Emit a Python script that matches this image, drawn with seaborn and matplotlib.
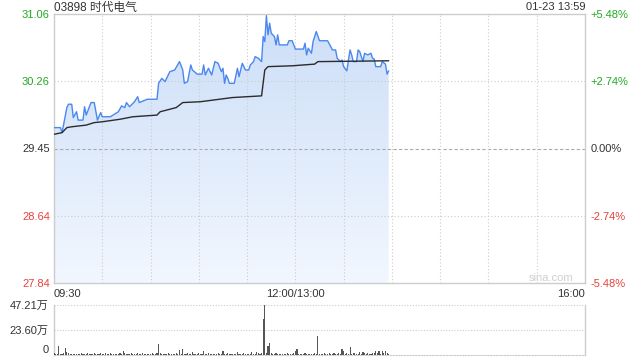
import numpy as np
import pandas as pd
import matplotlib
matplotlib.use("Agg")
import matplotlib.pyplot as plt
import seaborn as sns
from matplotlib.patches import Polygon

# ---------------- data ----------------
title = "03898 时代电气"
stamp = "01-23 13:59"
prev_close = 29.45
price_ticks = [27.84, 28.64, 29.45, 30.26, 31.06]
pct_labels = ["-5.48%", "-2.74%", "0.00%", "+2.74%", "+5.48%"]
time_ticks = [0, 150, 330]
time_labels = ["09:30", "12:00/13:00", "16:00"]

price_min = [0, 4, 5, 8, 9, 11, 12, 14, 15, 18, 19, 20, 23, 25, 27, 29, 30, 35, 40, 42,
             44, 45, 47, 50, 52, 53, 58, 64, 65, 67, 69, 72, 75, 78, 80, 81, 83, 85, 86, 89,
             92, 93, 94, 96, 98, 100, 102, 104, 105, 106, 107, 108, 109, 112, 114, 115, 117, 119, 121, 122,
             124, 125, 127, 129, 130, 131, 132, 133, 134, 135, 137, 138, 139, 140, 145, 146, 148, 150, 155, 156,
             157, 158, 160, 161, 163, 165, 170, 172, 173, 175, 176, 178, 179, 180, 182, 183, 184, 185, 186, 188,
             189, 190, 192, 193, 195, 197, 198, 199, 200, 203, 204, 206, 207, 208]
price_val = [29.70, 29.70, 29.64, 29.94, 29.98, 29.98, 29.82, 29.89, 29.79, 29.79, 29.95, 29.85, 30.00, 30.00, 29.79, 29.88, 29.83, 29.83, 29.89, 29.96,
             29.94, 30.00, 29.95, 30.01, 30.07, 30.00, 30.04, 30.04, 30.23, 30.29, 30.25, 30.37, 30.39, 30.49, 30.39, 30.23, 30.25, 30.45, 30.39, 30.34,
             30.34, 30.45, 30.33, 30.41, 30.33, 30.49, 30.47, 30.37, 30.41, 30.23, 30.33, 30.29, 30.23, 30.23, 30.41, 30.31, 30.47, 30.39, 30.39, 30.45,
             30.49, 30.55, 30.53, 30.49, 30.79, 30.73, 31.04, 30.81, 30.95, 30.83, 30.79, 30.69, 30.81, 30.69, 30.69, 30.74, 30.74, 30.64, 30.64, 30.71,
             30.57, 30.65, 30.59, 30.73, 30.85, 30.74, 30.74, 30.67, 30.63, 30.63, 30.53, 30.49, 30.51, 30.43, 30.38, 30.51, 30.63, 30.57, 30.49, 30.49,
             30.63, 30.61, 30.49, 30.59, 30.57, 30.59, 30.53, 30.52, 30.43, 30.43, 30.49, 30.46, 30.34, 30.38]

avg_min = [0, 5, 8, 11, 20, 25, 30, 41, 49, 64, 66, 76, 80, 91, 111, 129, 131, 133, 148, 162, 164, 208]
avg_val = [29.62, 29.64, 29.70, 29.71, 29.73, 29.76, 29.77, 29.80, 29.83, 29.85, 29.89, 29.94, 30.00, 30.01,
           30.06, 30.08, 30.39, 30.43, 30.44, 30.46, 30.49, 30.50]

vol_max = 47.21
vol_ticks = [0, 23.605, 47.21]
vol_labels = ["0", "23.60万", "47.21万"]
vol_val = [1.5, 1.2, 1.0, 8.5, 1.4, 1.2, 1.6, 6.9, 3.1, 1.8, 1.3, 1.1, 1.2, 1.0, 1.4, 1.1, 1.3, 1.5, 1.0, 1.2,
           1.1, 1.6, 1.3, 1.0, 1.2, 1.9, 1.1, 1.4, 1.0, 1.7, 1.2, 1.1, 1.5, 1.0, 1.3, 1.8, 1.2, 1.1, 1.4, 1.0,
           1.2, 1.5, 1.1, 3.8, 1.6, 1.2, 1.0, 1.4, 1.9, 1.1, 1.3, 1.0, 1.5, 1.2, 1.1, 1.7, 1.0, 1.3, 1.2, 1.4,
           1.1, 1.6, 1.0, 1.3, 1.8, 10.4, 1.5, 1.2, 1.4, 1.1, 1.0, 1.6, 1.3, 1.2, 1.0, 1.4, 1.8, 1.1, 4.7, 1.3,
           5.7, 1.2, 1.0, 1.5, 1.1, 1.3, 3.1, 1.2, 1.0, 1.4, 1.6, 1.1, 1.3, 3.8, 1.2, 1.0, 1.5, 1.1, 1.3, 1.2,
           1.0, 1.4, 1.6, 1.1, 1.2, 3.8, 1.3, 1.0, 1.5, 1.2, 1.1, 1.4, 1.0, 1.3, 2.8, 1.1, 1.2, 1.0, 1.5, 1.3,
           1.1, 1.4, 1.2, 2.5, 1.0, 1.3, 2.8, 1.6, 1.2, 1.8, 34.0, 47.21, 2.0, 8.8, 11.0, 1.8, 1.4, 1.2, 1.5, 1.1,
           1.3, 1.0, 1.2, 1.4, 1.1, 1.6, 1.0, 1.3, 1.2, 1.5, 3.8, 5.7, 1.4, 1.1, 1.3, 1.0, 1.6, 1.2, 1.1, 1.4,
           1.2, 1.0, 1.5, 1.3, 17.9, 1.4, 1.1, 1.2, 1.6, 1.0, 1.3, 1.5, 1.1, 1.2, 1.8, 1.4, 1.3, 1.6, 1.2, 5.7,
           3.8, 1.4, 1.5, 1.2, 7.5, 1.3, 1.6, 1.8, 1.4, 1.2, 2.5, 1.3, 2.8, 1.5, 1.2, 1.6, 1.4, 1.3, 1.8, 1.5,
           3.8, 1.6, 3.8, 1.4, 3.8, 1.5, 3.8, 1.7, 1.4]
vol_min = list(range(len(vol_val)))

# ---------------- style ----------------
sns.set_style("white")
plt.rcParams["font.family"] = ["Liberation Sans", "Noto Sans CJK SC", "DejaVu Sans"]

GREEN = "#22a822"
RED = "#e8413b"
DARK = "#333333"
GRID = "#cccccc"

W, H = 640, 360
fig = plt.figure(figsize=(6.4, 3.6), dpi=100)
ax = fig.add_axes([54 / W, 1 - 283 / H, 531 / W, 269 / H])
axv = fig.add_axes([54 / W, 1 - 355 / H, 531 / W, 50 / H])

ylo, yhi = price_ticks[0], price_ticks[-1]

# gradient fill under the price line
verts = [(price_min[0], ylo)] + list(zip(price_min, price_val)) + [(price_min[-1], ylo)]
poly = Polygon(verts, closed=True, facecolor="none", edgecolor="none")
ax.add_patch(poly)
top_c = np.array([0.80, 0.87, 0.97])
bot_c = np.array([0.95, 0.97, 1.00])
t = np.linspace(0, 1, 256).reshape(-1, 1, 1)
img = top_c * (1 - t) + bot_c * t
img = np.repeat(img, 2, axis=1)
im = ax.imshow(img, extent=[price_min[0], price_min[-1], ylo, max(price_val)],
               aspect="auto", origin="upper", zorder=1, interpolation="bilinear")
im.set_clip_path(poly)

df_p = pd.DataFrame({"minute": price_min, "price": price_val})
df_a = pd.DataFrame({"minute": avg_min, "avg": avg_val})
sns.lineplot(data=df_p, x="minute", y="price", ax=ax, color="#4a88f0", linewidth=1.0, zorder=4)
sns.lineplot(data=df_a, x="minute", y="avg", ax=ax, color="#2b2b2b", linewidth=1.0, zorder=5)

ax.set_xlim(0, 330)
ax.set_ylim(ylo, yhi)
ax.set_xlabel("")
ax.set_ylabel("")

for yv in price_ticks[1:-1]:
    if yv == prev_close:
        ax.axhline(yv, color="#aaaaaa", lw=0.8, ls=(0, (3, 2)), zorder=2)
    else:
        ax.axhline(yv, color=GRID, lw=0.8, ls=(0, (1, 2)), zorder=2)
for xv in range(30, 330, 30):
    ax.axvline(xv, color=GRID, lw=0.8, ls=(0, (1, 2)), zorder=2)

for s in ax.spines.values():
    s.set_color(GRID)
    s.set_linewidth(1.0)

ax.set_yticks(price_ticks)
ax.set_yticklabels([f"{v:.2f}" for v in price_ticks])
colors = [RED, RED, DARK, GREEN, GREEN]
for lab, c in zip(ax.get_yticklabels(), colors):
    lab.set_color(c)
ax.tick_params(axis="y", length=0, pad=3, labelsize=8)

ax.set_xticks(time_ticks)
ax.set_xticklabels(time_labels)
xl = ax.get_xticklabels()
xl[0].set_ha("left")
xl[-1].set_ha("right")
for lab in xl:
    lab.set_color(DARK)
ax.tick_params(axis="x", length=0, pad=4, labelsize=8)

ax2 = ax.twinx()
ax2.set_ylim(ylo, yhi)
ax2.set_yticks(price_ticks)
ax2.set_yticklabels(pct_labels)
for lab, c in zip(ax2.get_yticklabels(), colors):
    lab.set_color(c)
ax2.tick_params(axis="y", length=0, pad=4, labelsize=8)
for s in ax2.spines.values():
    s.set_visible(False)

# volume
axv.bar(vol_min, vol_val, width=0.7, color="#555555", linewidth=0, zorder=3)
axv.set_xlim(0, 330)
axv.set_ylim(0, vol_max)
axv.axhline(vol_ticks[1], color=GRID, lw=0.8, ls=(0, (1, 1.5)), zorder=1)
axv.axhline(vol_ticks[2], color=GRID, lw=0.8, ls=(0, (1, 1.5)), zorder=1, clip_on=False)
axv.spines["top"].set_visible(False)
axv.spines["bottom"].set_color(GRID)
axv.spines["bottom"].set_linestyle((0, (1, 1.5)))
for k in ("left", "right"):
    axv.spines[k].set_color(GRID)
    axv.spines[k].set_linewidth(1.0)
axv.set_xticks([])
axv.set_yticks(vol_ticks)
axv.set_yticklabels(vol_labels)
axv.tick_params(axis="y", length=0, pad=4, labelsize=8, labelcolor=DARK)
axv.get_yticklabels()[0].set_va("bottom")

# texts
fig.text(54 / W, 1 - 7.5 / H, title, ha="left", va="center", fontsize=8.5, color=DARK)
fig.text(585 / W, 1 - 7.5 / H, stamp, ha="right", va="center", fontsize=8, color=DARK)
fig.text(573 / W, 1 - 278 / H, "sina.com", ha="right", va="center", fontsize=8, color="#cfcfcf")

fig.savefig("out.png", dpi=100)
